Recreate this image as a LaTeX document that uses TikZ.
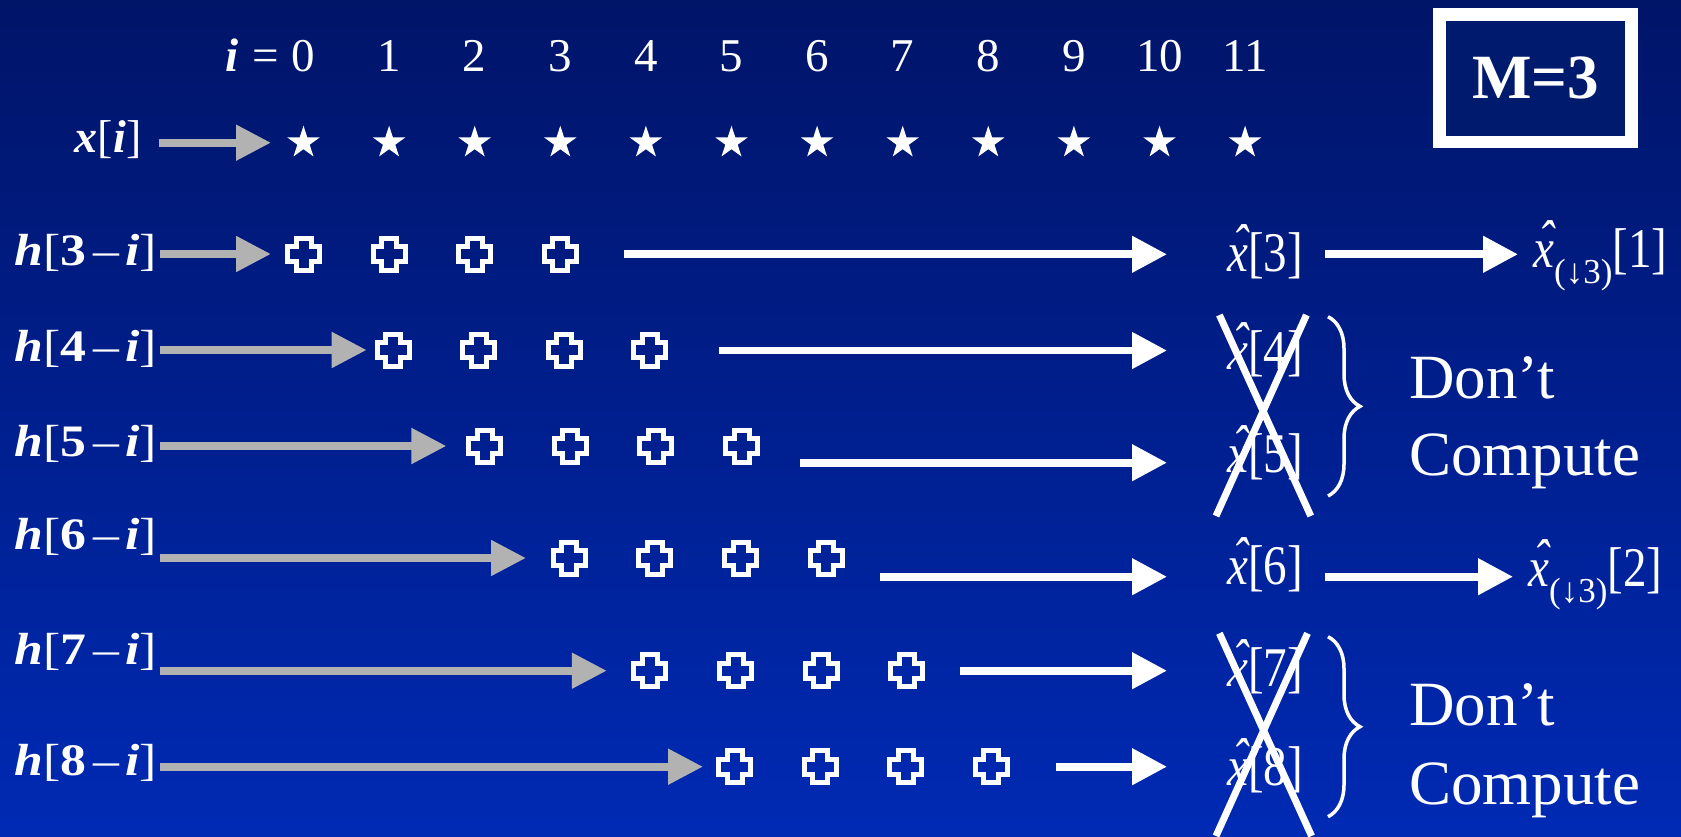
\documentclass[tikz,border=0pt]{standalone}
\usepackage{fontspec}
\setmainfont{Liberation Serif}
\newfontfamily\labfont[FakeStretch=1.15]{Liberation Serif}
\newfontfamily\eqfont[FakeStretch=0.84]{Liberation Serif}
\usetikzlibrary{arrows.meta,shapes.geometric,decorations.pathreplacing}
\definecolor{slidetop}{RGB}{0,20,104}
\definecolor{slidebot}{RGB}{0,42,180}
\definecolor{boxnavy}{RGB}{0,26,110}
\definecolor{tapgray}{RGB}{178,178,178}
\newcommand\xhat{{\itshape\makebox[0pt][l]{\hspace{0.1em}\raisebox{0.14em}{ˆ}}x}}
\newcommand\dsub{\raisebox{-16pt}{\normalfont\fontsize{35}{38}\selectfont(↓3)}}
\newcommand\hlab[1]{{\bfseries\itshape h}[{\bfseries #1}\hspace{0.14em}–\hspace{0.14em}{\bfseries\itshape i}]}
\tikzset{
    decidx/.style={text=white, font=\fontsize{47}{50}\selectfont, inner sep=0pt, anchor=base},
    declabel/.style={text=white, font=\labfont\fontsize{45}{50}\selectfont, inner sep=0pt, anchor=east},
    decstar/.style={star, star points=5, star point ratio=2.618, fill=white, minimum size=34pt, inner sep=0pt},
    deccross/.style={minimum size=40pt, inner sep=0pt, path picture={
        \draw[white, line width=5pt] (path picture bounding box.center) ++(-7.5pt,16pt)
            -- ++(15pt,0pt) -- ++(0pt,-8.5pt) -- ++(8.5pt,0pt) -- ++(0pt,-15pt) -- ++(-8.5pt,0pt)
            -- ++(0pt,-8.5pt) -- ++(-15pt,0pt) -- ++(0pt,8.5pt) -- ++(-8.5pt,0pt) -- ++(0pt,15pt)
            -- ++(8.5pt,0pt) -- cycle;
    }},
    decgray/.style={draw=tapgray, line width=8pt, -{Triangle[length=35pt,width=34pt]}},
    decwhite/.style={draw=white, line width=7.7pt, -{Triangle[length=35pt,width=35pt]}},
    decout/.style={text=white, font=\eqfont\fontsize{56}{60}\selectfont, inner sep=0pt, anchor=base west},
    deccut/.style={draw=white, line width=7pt},
    decbrace/.style={draw=white, line width=3.5pt, decorate, decoration={brace, amplitude=32pt}},
    decnote/.style={text=white, font=\fontsize{63}{70}\selectfont, inner sep=0pt, anchor=base west},
    decbox/.style={draw=white, line width=12.3pt, fill=boxnavy, minimum width=192pt, minimum height=127.5pt,
        text=white, font=\bfseries\fontsize{63}{70}\selectfont}
}

\begin{document}
\begin{tikzpicture}[x=1pt, y=-1pt]
    \useasboundingbox (0,0) rectangle (1681,836);
    \shade[top color=slidetop, bottom color=slidebot] (0,0) rectangle (1681,836);

    % index row and input samples
    \node[decidx, anchor=base east] (n0) at (315.5,71.7) {{\bfseries\itshape i}\hspace{0.28em}=\hspace{0.28em}0};
    \foreach \k in {1,...,11}
        \node[decidx] (n\k) at ({303.5+85.6*\k},71.7) {\k};
    \foreach \k in {0,...,11}
        \node[decstar] (s\k) at ({303.5+85.6*\k},142.7) {};
    \node[declabel, font=\fontsize{46}{50}\selectfont] (xin) at (141.6,139.7) {{\bfseries\itshape x}[{\bfseries\itshape i}]};
    \draw[decgray] ([xshift=17.5pt]xin.east |- s0) -- ([xshift=-32.5pt]s0.center);

    % filter taps, one row per output sample
    \foreach \r/\sh/\y/\ly/\tx/\ws/\wy/\bl in {3/0/254/252.5/271/623.7/254.3/271.5,
            4/4/350/349/366.7/719.4/350.5/369, 5/10/446/443.5/446.4/799.8/462.7/472.5,
            6/9/558/537/526/880.4/576.7/584, 7/4/670.7/651.7/606.8/959.7/670.7/686.6,
            8/3/766.7/763/703/1055.8/766.7/785.6}{
        \node[declabel] (h\r) at (157,\ly) {\hlab{\r}};
        \foreach \k in {0,...,3}
            \node[deccross] (c\r-\k) at ({303.5+85.6*(\r-3+\k)+\sh},\y) {};
        \coordinate (g\r) at (\tx,\y);
        \draw[decgray] ([xshift=2.5pt]h\r.east |- g\r) -- (g\r);
        \node[decout] (o\r) at (1227,\bl) {\xhat[\r]};
        \coordinate (w\r) at (\ws,\wy);
        \draw[decwhite, shorten >=60pt] (w\r) -- (w\r -| o\r.west);
    }

    % kept outputs go on to the decimated sequence
    \node[decout] (d1) at (1533,267.5) {\xhat\dsub[1]};
    \node[decout] (d2) at (1528,586) {\xhat\dsub[2]};
    \draw[decwhite, shorten <=22pt, shorten >=15pt] (o3.east |- w3) -- (w3 -| d1.west);
    \draw[decwhite, shorten <=22pt, shorten >=15pt] (o6.east |- w6) -- (w6 -| d2.west);

    % skipped outputs
    \draw[deccut] (1219.4,315) -- (1310.8,516);
    \draw[deccut] (1306.4,315) -- (1216,516);
    \draw[deccut] (1219.4,633.3) -- (1311.6,836);
    \draw[deccut] (1307.5,633.3) -- (1216,836);
    \draw[decbrace] (1328,316.7) -- (1328,496);
    \draw[decbrace] (1328,636.7) -- (1328,816.7);
    \node[decnote] (dc1) at (1409,398.3) {Don’t};
    \node[decnote] (cp1) at (1409,475) {Compute};
    \node[decnote] (dc2) at (1409,725.7) {Don’t};
    \node[decnote] (cp2) at (1409,804) {Compute};

    \node[decbox] (mbox) at (1535.5,78.3) {M=3};
\end{tikzpicture}
\end{document}
